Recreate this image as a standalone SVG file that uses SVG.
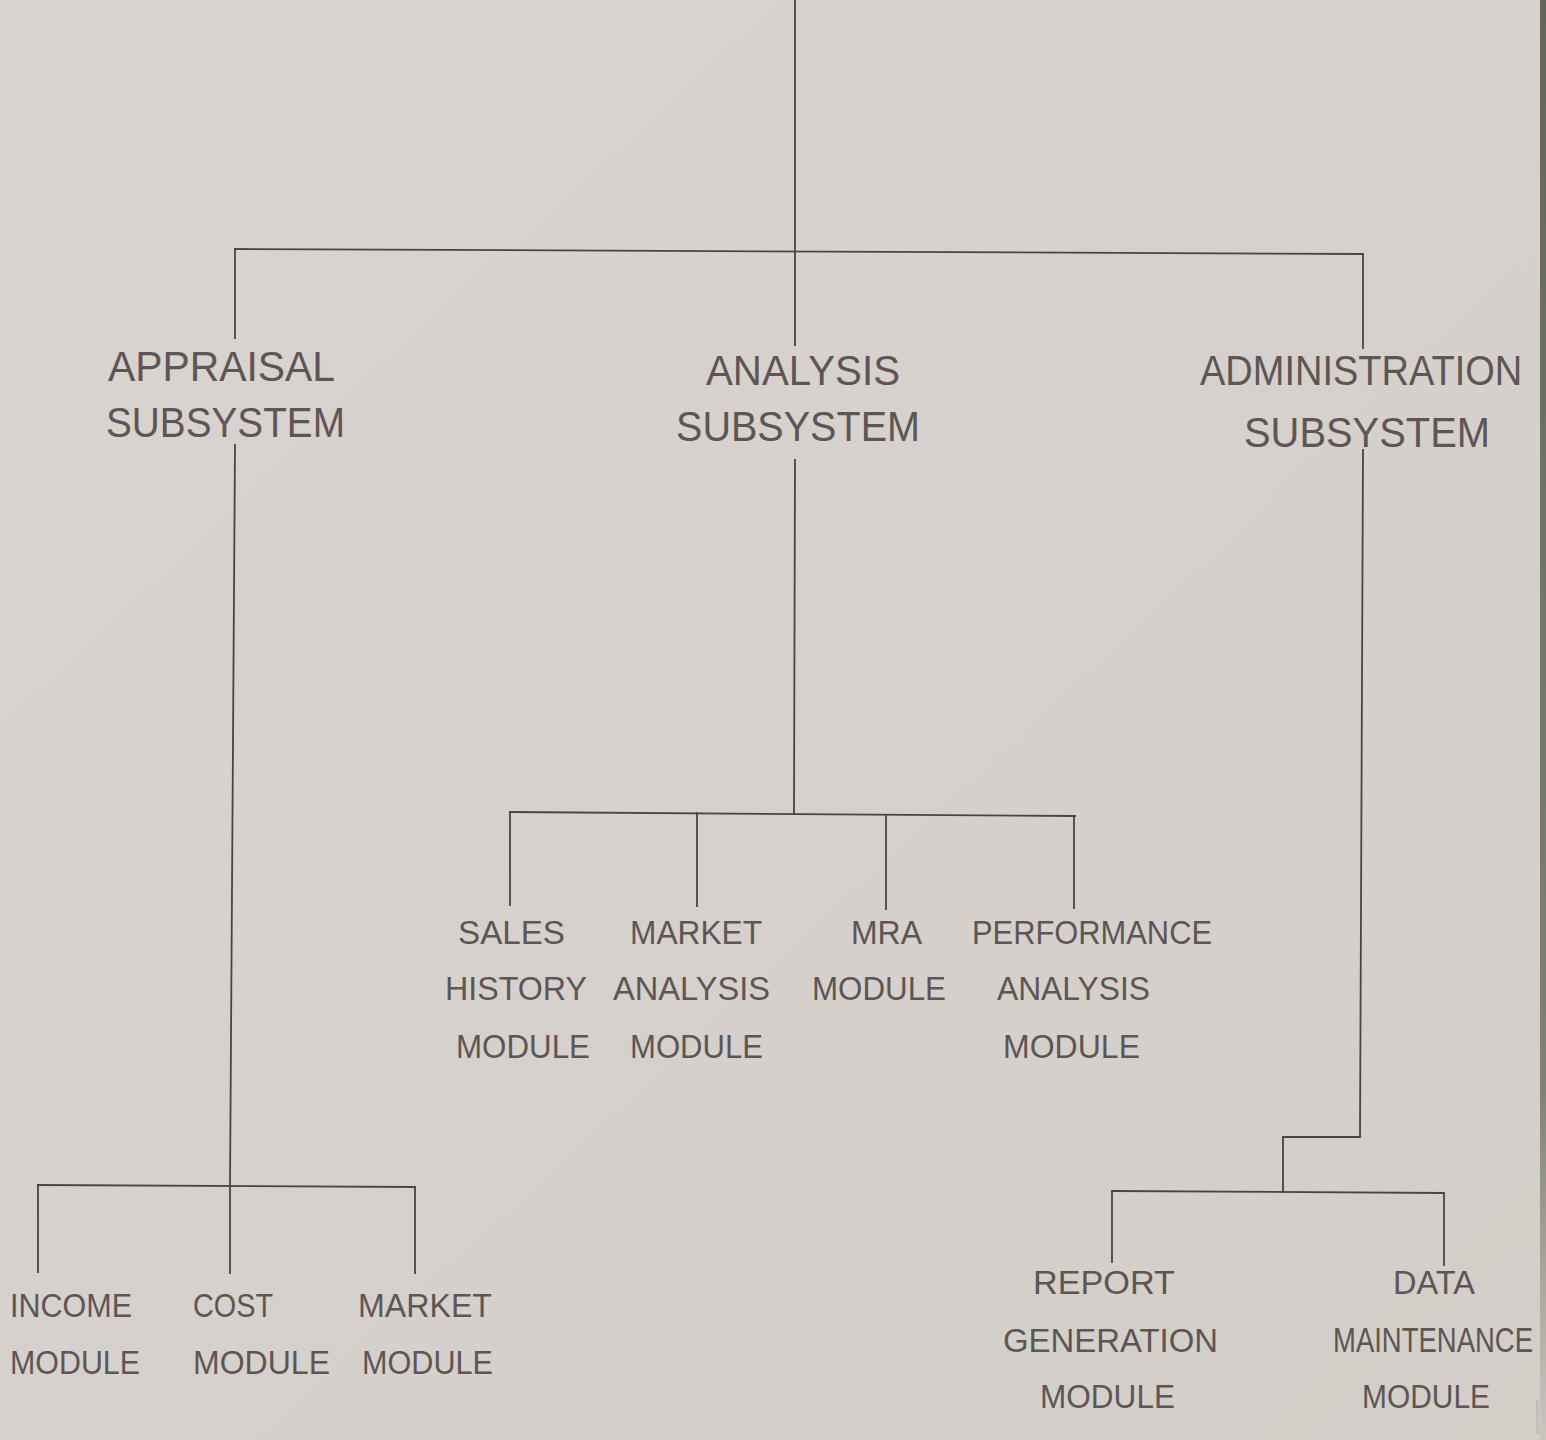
<svg xmlns="http://www.w3.org/2000/svg" width="1546" height="1440" viewBox="0 0 1546 1440">
<defs>
<linearGradient id="bg" x1="0" y1="0" x2="1" y2="1">
<stop offset="0" stop-color="#d9d4d0"/>
<stop offset="0.5" stop-color="#d6d1cc"/>
<stop offset="1" stop-color="#d3cec8"/>
</linearGradient>
<linearGradient id="edge" x1="0" y1="0" x2="0" y2="1">
<stop offset="0" stop-color="#5f675a"/>
<stop offset="0.75" stop-color="#7d8175"/>
<stop offset="1" stop-color="#c9c6c0"/>
</linearGradient>
<style>
.ln{stroke:#4e4244;stroke-width:1.8;fill:none;stroke-linecap:square}
.t1{font-family:"Liberation Sans",Arial,sans-serif;font-size:43px;fill:#5e5556}
.t2{font-family:"Liberation Sans",Arial,sans-serif;font-size:34px;fill:#5e5556}
</style>
</defs>
<rect width="1546" height="1440" fill="url(#bg)"/>
<g id="connectors">
<line class="ln" x1="795" y1="0" x2="795" y2="345"/>
<line class="ln" x1="235" y1="249" x2="1363" y2="254"/>
<line class="ln" x1="235" y1="249" x2="235" y2="338"/>
<line class="ln" x1="1363" y1="254" x2="1363" y2="348"/>
<line class="ln" x1="235" y1="445" x2="230" y2="1186"/>
<line class="ln" x1="795" y1="460" x2="794" y2="813"/>
<polyline class="ln" points="1363,450 1360,1137 1283,1137 1283,1192"/>
<line class="ln" x1="510" y1="812" x2="1075" y2="816"/>
<line class="ln" x1="510" y1="812" x2="510" y2="905"/>
<line class="ln" x1="697" y1="813" x2="697" y2="906"/>
<line class="ln" x1="886" y1="815" x2="886" y2="909"/>
<line class="ln" x1="1074" y1="816" x2="1074" y2="908"/>
<line class="ln" x1="38" y1="1185" x2="415" y2="1187"/>
<line class="ln" x1="38" y1="1185" x2="38" y2="1272"/>
<line class="ln" x1="230" y1="1186" x2="230" y2="1273"/>
<line class="ln" x1="415" y1="1187" x2="415" y2="1273"/>
<line class="ln" x1="1112" y1="1191" x2="1444" y2="1193"/>
<line class="ln" x1="1112" y1="1191" x2="1112" y2="1262"/>
<line class="ln" x1="1444" y1="1193" x2="1444" y2="1265"/>
</g>
<g id="appraisal">
<text class="t1" x="108" y="381" textLength="227" lengthAdjust="spacingAndGlyphs">APPRAISAL</text>
<text class="t1" x="106" y="437" textLength="239" lengthAdjust="spacingAndGlyphs">SUBSYSTEM</text>
</g>
<g id="analysis">
<text class="t1" x="706" y="385" textLength="194" lengthAdjust="spacingAndGlyphs">ANALYSIS</text>
<text class="t1" x="676" y="441" textLength="244" lengthAdjust="spacingAndGlyphs">SUBSYSTEM</text>
</g>
<g id="administration">
<text class="t1" transform="translate(1200,385) scale(1,1.13)" x="0" y="0" style="font-size:38px">ADMINISTRATION</text>
<text class="t1" x="1244" y="447" textLength="246" lengthAdjust="spacingAndGlyphs">SUBSYSTEM</text>
</g>
<g id="sales-history">
<text class="t2" x="458" y="944" textLength="107" lengthAdjust="spacingAndGlyphs">SALES</text>
<text class="t2" x="445" y="1000" textLength="142" lengthAdjust="spacingAndGlyphs">HISTORY</text>
<text class="t2" x="456" y="1058" textLength="134" lengthAdjust="spacingAndGlyphs">MODULE</text>
</g>
<g id="market-analysis">
<text class="t2" x="630" y="944" textLength="132" lengthAdjust="spacingAndGlyphs">MARKET</text>
<text class="t2" x="613" y="1000" textLength="157" lengthAdjust="spacingAndGlyphs">ANALYSIS</text>
<text class="t2" x="630" y="1058" textLength="133" lengthAdjust="spacingAndGlyphs">MODULE</text>
</g>
<g id="mra">
<text class="t2" x="851" y="944" textLength="71" lengthAdjust="spacingAndGlyphs">MRA</text>
<text class="t2" x="812" y="1000" textLength="134" lengthAdjust="spacingAndGlyphs">MODULE</text>
</g>
<g id="performance-analysis">
<text class="t2" x="972" y="944" textLength="240" lengthAdjust="spacingAndGlyphs">PERFORMANCE</text>
<text class="t2" x="997" y="1000" textLength="153" lengthAdjust="spacingAndGlyphs">ANALYSIS</text>
<text class="t2" x="1003" y="1058" textLength="137" lengthAdjust="spacingAndGlyphs">MODULE</text>
</g>
<g id="income">
<text class="t2" x="10" y="1317" textLength="122" lengthAdjust="spacingAndGlyphs">INCOME</text>
<text class="t2" x="10" y="1374" textLength="130" lengthAdjust="spacingAndGlyphs">MODULE</text>
</g>
<g id="cost">
<text class="t2" x="193" y="1317" textLength="80" lengthAdjust="spacingAndGlyphs">COST</text>
<text class="t2" x="193" y="1374" textLength="137" lengthAdjust="spacingAndGlyphs">MODULE</text>
</g>
<g id="market">
<text class="t2" x="358" y="1317" textLength="134" lengthAdjust="spacingAndGlyphs">MARKET</text>
<text class="t2" x="362" y="1374" textLength="131" lengthAdjust="spacingAndGlyphs">MODULE</text>
</g>
<g id="report-generation">
<text class="t2" x="1033" y="1294" textLength="142" lengthAdjust="spacingAndGlyphs">REPORT</text>
<text class="t2" x="1003" y="1352" textLength="215" lengthAdjust="spacingAndGlyphs">GENERATION</text>
<text class="t2" x="1040" y="1408" textLength="135" lengthAdjust="spacingAndGlyphs">MODULE</text>
</g>
<g id="data-maintenance">
<text class="t2" x="1393" y="1294" textLength="82" lengthAdjust="spacingAndGlyphs">DATA</text>
<text class="t2" transform="translate(1333,1352) scale(1,1.25)" x="0" y="0" style="font-size:27.5px">MAINTENANCE</text>
<text class="t2" x="1362" y="1408" textLength="128" lengthAdjust="spacingAndGlyphs">MODULE</text>
</g>
<rect x="1540" y="0" width="6" height="1440" fill="url(#edge)"/>
<rect x="1536" y="1400" width="3" height="34" fill="#c2beb8"/>
</svg>
